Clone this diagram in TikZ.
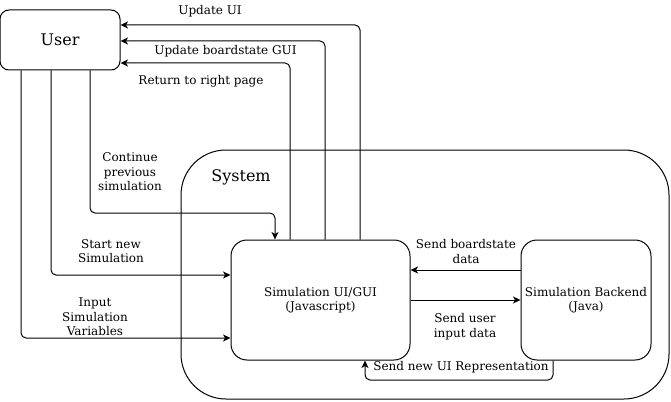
\documentclass[tikz,border=0pt]{standalone}
\usepackage{fontspec}
\setmainfont{DejaVu Serif}
\usetikzlibrary{arrows.meta,calc}
\begin{document}
\begin{tikzpicture}[x=1pt,y=-1pt,line width=1pt,
  font=\fontsize{12}{14.5}\selectfont,
  box/.style={draw,align=center,inner sep=0pt},
  conn/.style={-{Stealth[length=7.5pt,width=7pt,inset=2pt]},rounded corners=5pt},
  lbl/.style={align=center,inner sep=0pt}]
\useasboundingbox (0,0) rectangle (671,401);
% boxes
\node[box,rounded corners=45pt,minimum width=488pt,minimum height=249pt] (sys) at (425,274.5) {};
\node[font=\fontsize{16}{19}\selectfont,inner sep=0pt] (systitle) at (241,177) {System};
\node[box,rounded corners=9pt,minimum width=120pt,minimum height=60pt,font=\fontsize{16}{19}\selectfont] (user) at (60,40) {User};
\node[box,rounded corners=16pt,minimum width=179pt,minimum height=120pt] (ui) at (320.5,300) {Simulation UI/GUI\\(Javascript)};
\node[box,rounded corners=16pt,minimum width=130pt,minimum height=120pt] (be) at (586,300) {Simulation Backend\\(Java)};
% connectors
\draw[conn] (ui.north -| 360,0) |- (user.east |- 0,25);
\draw[conn] (ui.north -| 325,0) |- (user.east |- 0,41);
\draw[conn] (ui.north -| 290,0) |- (user.east |- 0,63);
\draw[conn] (user.south -| 90,0) |- (275,213) -- (ui.north -| 275,0);
\draw[conn] (user.south -| 51,0) |- (ui.west |- 0,275);
\draw[conn] (user.south -| 21,0) |- (ui.west |- 0,338);
\draw[conn] (be.west |- 0,270) -- (ui.east |- 0,270);
\draw[conn] (ui.east |- 0,300) -- (be.west |- 0,300);
\draw[conn] (be.south -| 553,0) |- (365,380) -- (ui.south -| 365,0);
% labels
\node[lbl] (l1) at (210,11) {Update UI};
\node[lbl] (l2) at (225.5,51) {Update boardstate GUI};
\node[lbl] (l3) at (201,81) {Return to right page};
\node[lbl] (l4) at (130,172) {Continue\\previous\\simulation};
\node[lbl] (l5) at (111,251) {Start new\\Simulation};
\node[lbl] (l6) at (95,317) {Input\\Simulation\\Variables};
\node[lbl] (l7) at (466,251.5) {Send boardstate\\data};
\node[lbl] (l8) at (465,326.5) {Send user\\input data};
\node[lbl] (l9) at (461,367) {Send new UI Representation};
\end{tikzpicture}
\end{document}
